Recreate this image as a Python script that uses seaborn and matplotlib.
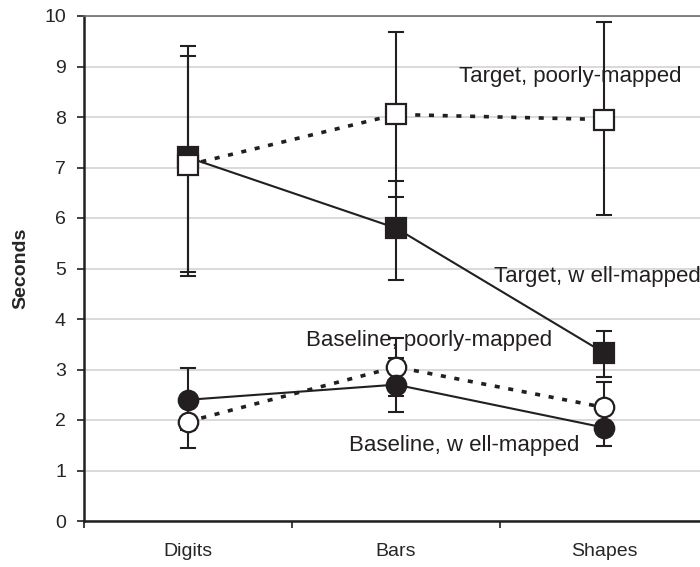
"""Response time by display type, baseline vs target, well- vs poorly-mapped."""

import matplotlib.pyplot as plt
import numpy as np
import pandas as pd
import seaborn as sns

categories = ["Digits", "Bars", "Shapes"]

target_well = [7.2, 5.8, 3.33]
target_well_lo = [2.27, 1.03, 0.48]
target_well_hi = [2.2, 0.93, 0.43]

target_poor = [7.05, 8.05, 7.95]
target_poor_lo = [2.2, 1.63, 1.89]
target_poor_hi = [2.15, 1.63, 1.93]

base_well = [2.4, 2.7, 1.85]
base_well_lo = [0.6, 0.55, 0.37]
base_well_hi = [0.63, 0.53, 0.37]

base_poor = [1.97, 3.05, 2.25]
base_poor_lo = [0.53, 0.57, 0.5]
base_poor_hi = [0.53, 0.57, 0.5]

series_names = ["Target, poorly-mapped", "Target, w ell-mapped",
                "Baseline, poorly-mapped", "Baseline, w ell-mapped"]

sns.set_style("white")
plt.rcParams["font.family"] = ["Liberation Sans", "DejaVu Sans"]

fig = plt.figure(figsize=(7, 5.67), dpi=100)
ax = fig.add_axes([84 / 700, 46 / 567, 624 / 700, 505 / 567])

x = np.arange(len(categories))
df = pd.DataFrame({"x": x, "tw": target_well, "tp": target_poor,
                   "bw": base_well, "bp": base_poor})

# error bars first so markers sit on top
for vals, lo, hi in [(target_well, target_well_lo, target_well_hi),
                     (target_poor, target_poor_lo, target_poor_hi),
                     (base_poor, base_poor_lo, base_poor_hi),
                     (base_well, base_well_lo, base_well_hi)]:
    ax.errorbar(x, vals, yerr=[lo, hi], fmt="none", ecolor="#231f20",
                elinewidth=1.5, capsize=5.5, capthick=1.5, zorder=2)

dotted = (0, (1.4, 2.4))
common = dict(ax=ax, color="#231f20", markersize=14, markeredgewidth=1.6,
              markeredgecolor="#231f20", legend=False, zorder=3)
sns.lineplot(data=df, x="x", y="tw", marker="s", markerfacecolor="#231f20",
             linewidth=1.5, **common)
sns.lineplot(data=df, x="x", y="tp", marker="s", markerfacecolor="white",
             linewidth=2.6, linestyle=dotted, **common)
sns.lineplot(data=df, x="x", y="bp", marker="o", markerfacecolor="white",
             linewidth=2.6, linestyle=dotted, **common)
sns.lineplot(data=df, x="x", y="bw", marker="o", markerfacecolor="#231f20",
             linewidth=1.5, **common)

label_kw = dict(ha="center", va="center", fontsize=16, color="#231f20")
ax.text(1.84, 8.81, series_names[0], **label_kw)
ax.text(1.97, 4.85, series_names[1], **label_kw)
ax.text(1.16, 3.58, series_names[2], **label_kw)
ax.text(1.33, 1.5, series_names[3], **label_kw)

ax.set_xlim(-0.5, 2.5)
ax.set_ylim(0, 10)
ax.set_xticks(x)
ax.set_xticklabels(categories, fontsize=14)
ax.set_xticks([-0.5, 0.5, 1.5, 2.5], minor=True)
ax.tick_params(axis="x", which="major", length=0, pad=16)
ax.tick_params(axis="x", which="minor", direction="out", length=5,
               width=1.2, color="#231f20", bottom=True)
ax.set_yticks(range(0, 11))
ax.tick_params(axis="y", direction="out", length=5, width=1.2,
               color="#231f20", labelsize=14, pad=8, left=True)
ax.yaxis.grid(True, color="#cfcfcf", linewidth=1.1)
ax.set_axisbelow(True)

ax.set_xlabel("")
ax.set_ylabel("Seconds", fontsize=14, fontweight="bold", labelpad=11)

for side in ["left", "bottom"]:
    ax.spines[side].set_color("#231f20")
    ax.spines[side].set_linewidth(1.8)
ax.spines["top"].set_color("#6d6d6d")
ax.spines["top"].set_linewidth(1.2)
ax.spines["right"].set_visible(False)

plt.savefig("out.png", dpi=100)
